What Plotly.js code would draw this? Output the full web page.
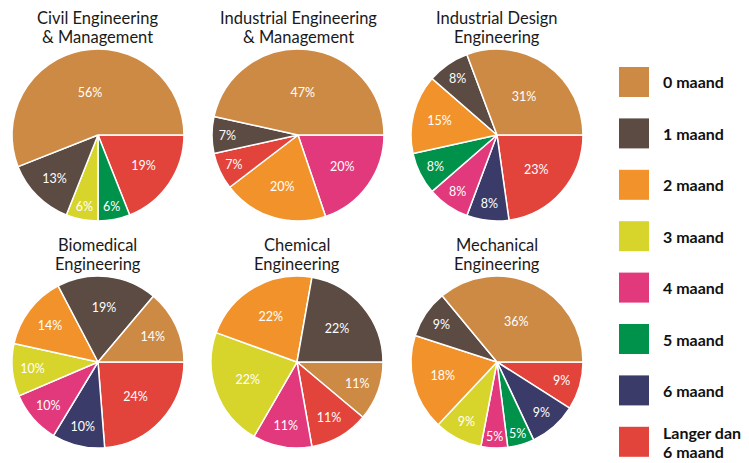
<!DOCTYPE html>
<html>
<head>
<meta charset="utf-8">
<script src="https://cdn.plot.ly/plotly-3.0.1.min.js"></script>
<style>html,body{margin:0;padding:0;background:#fff}#chart{width:749px;height:463px}</style>
</head>
<body>
<div id="chart"></div>
<script>
// Categories (legend order) and their colours
const categories = ['0 maand','1 maand','2 maand','3 maand','4 maand','5 maand','6 maand','Langer dan 6 maand'];
const legendLabels = ['0 maand','1 maand','2 maand','3 maand','4 maand','5 maand','6 maand','Langer dan<br>6 maand'];
const categoryColors = ['#CD8A45','#5B4B42','#F1932A','#D7D52B','#E2397C','#00924B','#3B3B69','#E2443B'];

// Programme titles
const titles = [
  ['Civil Engineering','& Management'],
  ['Industrial Engineering','& Management'],
  ['Industrial Design','Engineering'],
  ['Biomedical','Engineering'],
  ['Chemical','Engineering'],
  ['Mechanical','Engineering']
];

// Slices per programme, in order counter-clockwise from 3 o'clock
const civilLabels = ['0 maand','1 maand','3 maand','5 maand','Langer dan 6 maand'];
const civilValues = [56,13,6,6,19];
const iemLabels = ['0 maand','1 maand','Langer dan 6 maand','2 maand','4 maand'];
const iemValues = [47,7,7,20,20];
const ideLabels = ['0 maand','1 maand','2 maand','5 maand','4 maand','6 maand','Langer dan 6 maand'];
const ideValues = [31,8,15,8,8,8,23];
const bioLabels = ['0 maand','1 maand','2 maand','3 maand','4 maand','6 maand','Langer dan 6 maand'];
const bioValues = [14,19,14,10,10,10,24];
const chemLabels = ['1 maand','2 maand','3 maand','4 maand','Langer dan 6 maand','0 maand'];
const chemValues = [22,22,22,11,11,11];
const mechLabels = ['0 maand','1 maand','2 maand','3 maand','4 maand','5 maand','6 maand','Langer dan 6 maand'];
const mechValues = [36,9,18,9,5,5,9,9];

const W = 749, H = 463;
const pies = [
  {labels: civilLabels, values: civilValues, cx: 98,  cy: 135},
  {labels: iemLabels,   values: iemValues,   cx: 298, cy: 135},
  {labels: ideLabels,   values: ideValues,   cx: 497, cy: 135},
  {labels: bioLabels,   values: bioValues,   cx: 98,  cy: 362},
  {labels: chemLabels,  values: chemValues,  cx: 297, cy: 362},
  {labels: mechLabels,  values: mechValues,  cx: 497, cy: 362}
];
const R = 86;
const px = x => x / W;
const py = y => 1 - y / H;
const colorOf = l => categoryColors[categories.indexOf(l)];

// drawn clockwise from 3 o'clock with reversed order == counter-clockwise original order
const data = pies.map(p => {
  const labs = p.labels.slice().reverse();
  const vals = p.values.slice().reverse();
  return {
    type: 'pie',
    labels: labs,
    values: vals,
    sort: false,
    direction: 'clockwise',
    rotation: 90,
    marker: {colors: labs.map(colorOf), line: {color: '#ffffff', width: 1.5}},
    texttemplate: '%{value}%',
    textposition: 'inside',
    insidetextorientation: 'horizontal',
    textfont: {family: 'Lato, sans-serif', size: 12.5, color: '#ffffff'},
    hoverinfo: 'label+value',
    domain: {x: [px(p.cx - R), px(p.cx + R)], y: [py(p.cy + R), py(p.cy - R)]}
  };
});

const annotations = [];
titles.forEach((t, i) => {
  const p = pies[i];
  const top = i < 3 ? 18 : 244.5;
  t.forEach((line, j) => {
    annotations.push({
      text: line, xref: 'paper', yref: 'paper', x: px(p.cx), y: py(top + j * 19.5),
      xanchor: 'center', yanchor: 'middle', showarrow: false,
      font: {family: 'Lato, sans-serif', size: 16.5, color: '#1a1a1a'}
    });
  });
});

const shapes = [];
const legTop = 67, legStep = 51.4, sq = 30, legX = 619;
categories.forEach((c, i) => {
  const y0 = legTop + i * legStep;
  shapes.push({type: 'rect', xref: 'paper', yref: 'paper',
    x0: px(legX), x1: px(legX + sq), y0: py(y0 + sq), y1: py(y0),
    fillcolor: categoryColors[i], line: {width: 0}});
  const lines = legendLabels[i].split('<br>');
  lines.forEach((line, j) => {
    const yc = y0 + sq / 2 + (j - (lines.length - 1) / 2) * 19.5;
    annotations.push({
      text: '<b>' + line + '</b>', xref: 'paper', yref: 'paper', x: px(661), y: py(yc),
      xanchor: 'left', yanchor: 'middle', showarrow: false,
      font: {family: 'Lato, sans-serif', size: 16, color: '#111111'}
    });
  });
});

const layout = {
  width: W, height: H,
  margin: {l: 0, r: 0, t: 0, b: 0},
  paper_bgcolor: '#ffffff',
  showlegend: false,
  annotations: annotations,
  shapes: shapes
};

Plotly.newPlot('chart', data, layout, {displayModeBar: false, staticPlot: true});
</script>
</body>
</html>
